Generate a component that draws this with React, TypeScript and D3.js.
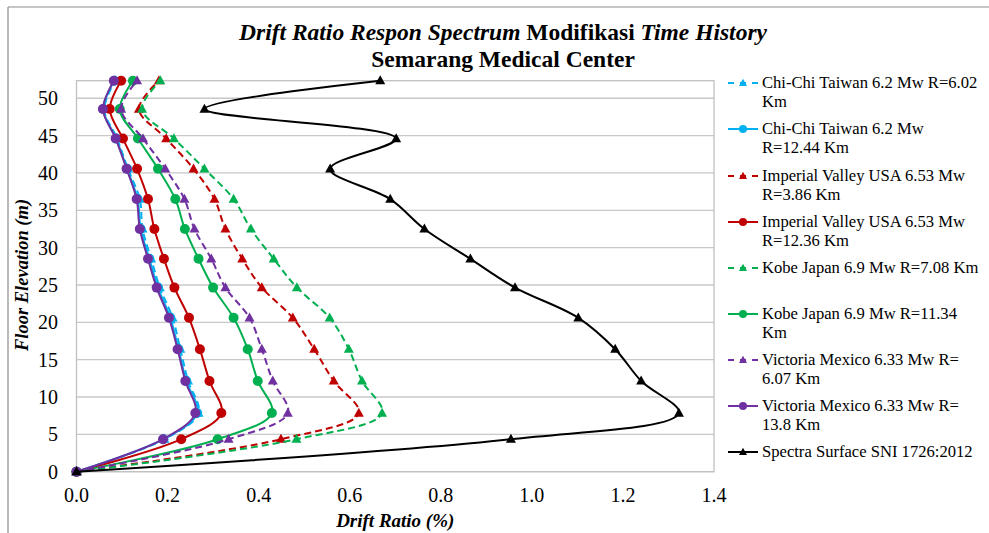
import React from "react";
import * as d3 from "d3";

// Floor elevations (m), bottom to top
const elevations = [0, 4.35, 7.85, 12.15, 16.4, 20.6, 24.65, 28.5, 32.5, 36.5, 40.55, 44.6, 48.55, 52.35];

// Drift ratio (%) per series, same order as elevations
const chiChi602 = [0, 0.193, 0.268, 0.245, 0.228, 0.211, 0.183, 0.164, 0.145, 0.139, 0.113, 0.089, 0.061, 0.085];
const chiChi1244 = [0, 0.191, 0.265, 0.241, 0.224, 0.206, 0.179, 0.16, 0.141, 0.134, 0.111, 0.087, 0.059, 0.083];
const impValley386 = [0, 0.449, 0.62, 0.565, 0.522, 0.475, 0.407, 0.364, 0.327, 0.303, 0.257, 0.197, 0.137, 0.181];
const impValley1236 = [0, 0.23, 0.318, 0.292, 0.271, 0.247, 0.215, 0.192, 0.171, 0.157, 0.133, 0.102, 0.073, 0.098];
const kobe708 = [0, 0.483, 0.671, 0.627, 0.598, 0.556, 0.484, 0.433, 0.383, 0.345, 0.281, 0.214, 0.144, 0.184];
const kobe1134 = [0, 0.31, 0.429, 0.398, 0.376, 0.345, 0.3, 0.268, 0.238, 0.217, 0.179, 0.135, 0.095, 0.124];
const victoria607 = [0, 0.334, 0.464, 0.431, 0.407, 0.38, 0.327, 0.296, 0.259, 0.237, 0.195, 0.146, 0.098, 0.133];
const victoria138 = [0, 0.19, 0.261, 0.239, 0.222, 0.203, 0.176, 0.157, 0.139, 0.132, 0.11, 0.086, 0.058, 0.082];
const spectraSNI = [0, 0.954, 1.323, 1.24, 1.183, 1.102, 0.963, 0.865, 0.764, 0.689, 0.557, 0.702, 0.281, 0.667];

const seriesNames = [
  ["Chi-Chi Taiwan 6.2 Mw R=6.02", "Km"],
  ["Chi-Chi Taiwan 6.2 Mw", "R=12.44 Km"],
  ["Imperial Valley USA 6.53 Mw", "R=3.86 Km"],
  ["Imperial Valley USA 6.53 Mw", "R=12.36 Km"],
  ["Kobe Japan 6.9 Mw R=7.08 Km"],
  ["Kobe Japan 6.9 Mw R=11.34", "Km"],
  ["Victoria Mexico 6.33 Mw R=", "6.07 Km"],
  ["Victoria Mexico 6.33 Mw R=", "13.8 Km"],
  ["Spectra Surface SNI 1726:2012"],
];
const seriesValues = [chiChi602, chiChi1244, impValley386, impValley1236, kobe708, kobe1134, victoria607, victoria138, spectraSNI];
const seriesColors = ["#00B0F0", "#00B0F0", "#C00000", "#C00000", "#00B050", "#00B050", "#7030A0", "#7030A0", "#000000"];
const seriesDashed = [true, false, true, false, true, false, true, false, false];
const seriesMarker = ["triangle", "circle", "triangle", "circle", "triangle", "circle", "triangle", "circle", "triangle"];

const xTicks = [0, 0.2, 0.4, 0.6, 0.8, 1.0, 1.2, 1.4];
const yTicks = [0, 5, 10, 15, 20, 25, 30, 35, 40, 45, 50];
const yMax = 52.35;

const FONT = "'Liberation Serif', 'Times New Roman', serif";

const legendY = [83, 129, 176, 222, 268, 314, 360, 406, 452];

function Marker({ type, x, y, color, size }: { type: string; x: number; y: number; color: string; size: number }) {
  if (type === "circle") return <circle cx={x} cy={y} r={size / 2} fill={color} />;
  const h = size * 0.9;
  const w = size;
  return (
    <path
      d={`M${x},${y - h * 0.6} L${x + w / 2},${y + h * 0.4} L${x - w / 2},${y + h * 0.4} Z`}
      fill={color}
    />
  );
}

export default function App() {
  const left = 76.5;
  const right = 714;
  const top = 80.7;
  const bottom = 471.7;
  const x = d3.scaleLinear().domain([0, 1.4]).range([left, right]);
  const y = d3.scaleLinear().domain([0, yMax]).range([bottom, top]);
  const line = d3
    .line<number>()
    .x((d) => x(d))
    .y((_, i) => y(elevations[i]))
    .curve(d3.curveCatmullRom.alpha(0.5));

  return (
    <div style={{ position: "absolute", left: 0, top: 0 }}>
      <svg width={989} height={533} style={{ display: "block", fontFamily: FONT }}>
        <rect x={0} y={0} width={989} height={533} fill="#fff" />
        {/* outer frame (top & left visible) */}
        <line x1={8} y1={7} x2={989} y2={7} stroke="#8c8c8c" strokeWidth={1.2} />
        <line x1={8} y1={7} x2={8} y2={533} stroke="#8c8c8c" strokeWidth={1.2} />

        {/* title */}
        <text x={503} y={40} textAnchor="middle" fontSize={23.5} fontWeight="bold" fill="#000">
          <tspan fontStyle="italic">Drift Ratio Respon Spectrum</tspan>
          <tspan> Modifikasi </tspan>
          <tspan fontStyle="italic">Time History</tspan>
        </text>
        <text x={503} y={67} textAnchor="middle" fontSize={23.5} fontWeight="bold" fill="#000">
          Semarang Medical Center
        </text>

        {/* gridlines */}
        {yTicks.map((t) => (
          <line key={t} x1={left} x2={right} y1={y(t)} y2={y(t)} stroke="#C8C8C8" strokeWidth={1.3} />
        ))}
        <rect x={left} y={top} width={right - left} height={bottom - top} fill="none" stroke="#C0C0C0" strokeWidth={1.3} />

        {/* y tick labels */}
        {yTicks.map((t) => (
          <text key={t} x={58} y={y(t) + 7} textAnchor="end" fontSize={20} fill="#000">
            {t}
          </text>
        ))}
        {/* x tick labels */}
        {xTicks.map((t) => (
          <text key={t} x={x(t)} y={502} textAnchor="middle" fontSize={20} fill="#000">
            {t.toFixed(1)}
          </text>
        ))}

        {/* axis titles */}
        <text x={(left + right) / 2} y={527} textAnchor="middle" fontSize={19} fontWeight="bold" fontStyle="italic">
          Drift Ratio (%)
        </text>
        <text
          transform={`translate(28,275) rotate(-90)`}
          textAnchor="middle"
          fontSize={18.5}
          fontWeight="bold"
          fontStyle="italic"
        >
          Floor Elevation (m)
        </text>

        {/* series */}
        {seriesValues.map((vals, si) => (
          <g key={si}>
            <path
              d={line(vals) || ""}
              fill="none"
              stroke={seriesColors[si]}
              strokeWidth={2}
              strokeDasharray={seriesDashed[si] ? "7,4" : undefined}
            />
            {vals.map((v, i) => (
              <Marker key={i} type={seriesMarker[si]} x={x(v)} y={y(elevations[i])} color={seriesColors[si]} size={10} />
            ))}
          </g>
        ))}

        {/* legend */}
        {seriesNames.map((lines, si) => (
          <g key={si}>
            <line
              x1={728}
              x2={758}
              y1={legendY[si]}
              y2={legendY[si]}
              stroke={seriesColors[si]}
              strokeWidth={2}
              strokeDasharray={seriesDashed[si] ? "6,6" : undefined}
            />
            <Marker type={seriesMarker[si]} x={743} y={legendY[si]} color={seriesColors[si]} size={8} />
            {lines.map((t, li) => (
              <text key={li} x={762} y={legendY[si] + 5 + li * 19} fontSize={16.6} fill="#000">
                {t}
              </text>
            ))}
          </g>
        ))}
      </svg>
    </div>
  );
}
